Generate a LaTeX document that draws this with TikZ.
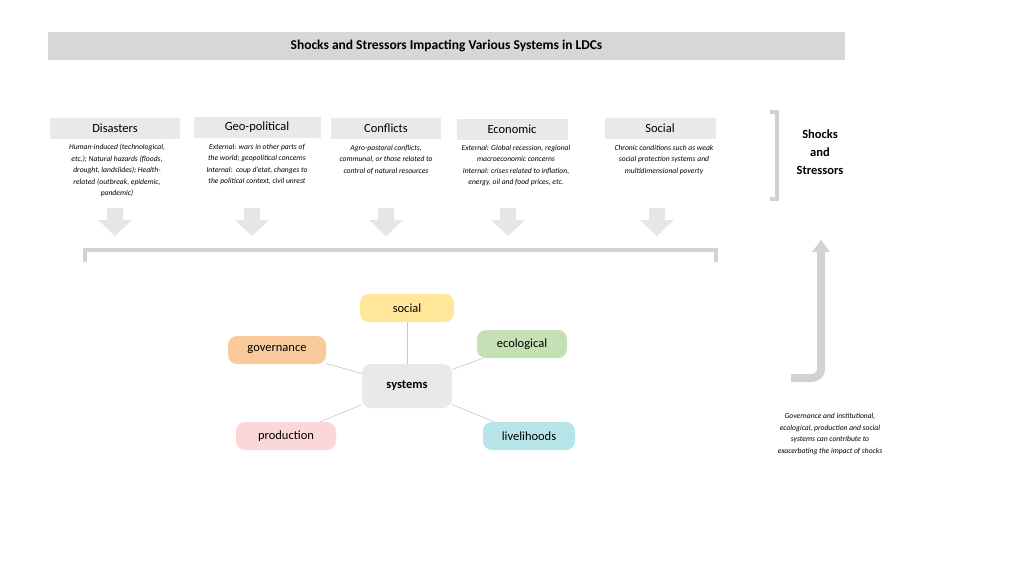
\documentclass[tikz,border=0pt]{standalone}
\usepackage{fontspec}
\setmainfont{Carlito}
\usetikzlibrary{arrows.meta}
\begin{document}
\begin{tikzpicture}[x=1pt,y=-1pt,
  cat/.style={fill=catgray,minimum height=21pt,font=\fontsize{12.5}{14}\selectfont,inner sep=0pt},
  desc/.style={font=\fontsize{7.6}{11.5}\selectfont\itshape,align=center,inner sep=0pt,anchor=north},
  mm/.style={rounded corners=9pt,minimum height=28pt,font=\fontsize{12.5}{14}\selectfont,inner sep=0pt},
  link/.style={draw=linkgray,line width=0.6pt}]
\definecolor{catgray}{HTML}{E9E9EB}
\definecolor{arrgray}{HTML}{E6E6E6}
\definecolor{brgray}{HTML}{D2D2D2}
\definecolor{linkgray}{HTML}{C8C8C8}
\useasboundingbox (0,0) rectangle (1024,576);
\fill[white] (0,0) rectangle (1024,576);
\node[fill=brgray!90,minimum width=797pt,minimum height=28pt,font=\fontsize{13.5}{15}\selectfont\bfseries] (title) at (446.5,46) {Shocks and Stressors Impacting Various Systems in LDCs};
% categories
\node[cat,minimum width=130pt] (c1) at (115,128) {Disasters};
\node[cat,minimum width=127pt] (c2) at (257,127) {Geo-political};
\node[cat,minimum width=110pt] (c3) at (386,128) {Conflicts};
\node[cat,minimum width=111pt] (c4) at (512,129) {Economic};
\node[cat,minimum width=111pt] (c5) at (660,128) {Social};
\node[desc] (d1) at (117,144) {Human-induced (technological,\\etc.); Natural hazards (floods,\\drought, landslides); Health-\\related (outbreak, epidemic,\\pandemic)};
\node[desc] (d2) at (257,144) {External: wars in other parts of\\the world; geopolitical concerns\\Internal:\ \ coup d'etat, changes to\\the political context, civil unrest};
\node[desc] (d3) at (386,145) {Agro-pastoral conflicts,\\communal, or those related to\\control of natural resources};
\node[desc] (d4) at (516,145) {External: Global recession, regional\\macroeconomic concerns\\Internal: crises related to inflation,\\energy, oil and food prices, etc.};
\node[desc] (d5) at (664,145) {Chronic conditions such as weak\\social protection systems and\\multidimensional poverty};
% down arrows
\foreach \x in {115,252,386,508,657}{
  \fill[arrgray] (\x-8,208) -- (\x+8,208) -- (\x+8,220) -- (\x+17,220) -- (\x,236) -- (\x-17,220) -- (\x-8,220) -- cycle;}
% brackets
\draw[brgray,line width=4pt] (85,262) -- (85,250) -- (716,250) -- (716,262);
\draw[brgray,line width=4pt] (770,112) -- (777,112) -- (777,199) -- (770,199);
\node[font=\fontsize{12.5}{18}\selectfont\bfseries,align=center] (shocks) at (820,152) {Shocks\\and\\Stressors};
% up arrow
\draw[brgray,line width=8pt] (791,378) -- (812,378) arc[start angle=90,end angle=0,radius=9] -- (821,252);
\fill[brgray] (812,252) -- (830,252) -- (821,240) -- cycle;
\node[font=\fontsize{7.6}{11.5}\selectfont\itshape,align=center] (note) at (830,434) {Governance and institutional,\\ecological, production and social\\systems can contribute to\\exacerbating the impact of shocks};
% mind map
\node[mm,fill=catgray,minimum width=90pt,minimum height=44pt,font=\fontsize{12.5}{14}\selectfont\bfseries] (sys) at (407,386) {systems};
\node[mm,fill={rgb,255:red,255;green,230;blue,153},minimum width=94pt] (soc) at (407,308) {social};
\node[mm,fill={rgb,255:red,197;green,224;blue,180},minimum width=90pt] (eco) at (522,344) {ecological};
\node[mm,fill={rgb,255:red,249;green,203;blue,156},minimum width=98pt] (gov) at (277,350) {governance};
\node[mm,fill={rgb,255:red,252;green,215;blue,215},minimum width=100pt] (pro) at (286,436) {production};
\node[mm,fill={rgb,255:red,183;green,228;blue,232},minimum width=92pt] (liv) at (529,436) {livelihoods};
\foreach \n in {soc,eco,gov,pro,liv}{\draw[link] (sys) -- (\n);}
\end{tikzpicture}
\end{document}
